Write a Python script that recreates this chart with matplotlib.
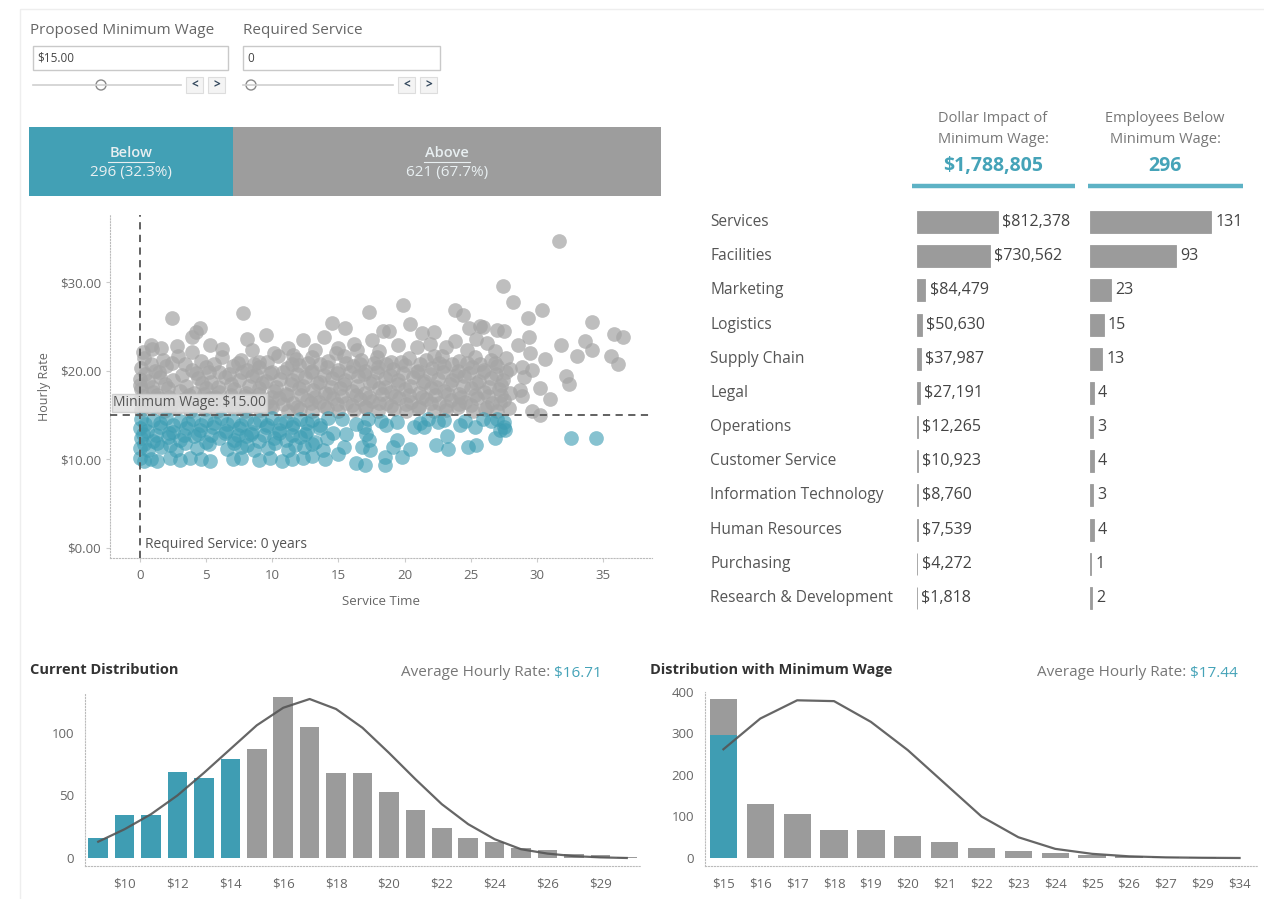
import matplotlib
matplotlib.use("Agg")
import matplotlib.pyplot as plt
from matplotlib.patches import Rectangle, Circle

plt.rcParams['font.family'] = ['Open Sans', 'DejaVu Sans']

W, H = 1264, 899
TEAL = '#3f9db3'
GRAY = '#9b9b9b'
TXT = '#666666'

# ---------------- data ----------------
min_wage = 15.00
required_service = 0
below_count = 296
above_count = 621
below_pct = 32.3
above_pct = 67.7

departments = ['Services', 'Facilities', 'Marketing', 'Logistics', 'Supply Chain', 'Legal',
               'Operations', 'Customer Service', 'Information Technology', 'Human Resources',
               'Purchasing', 'Research & Development']
dollar_impact = [812378, 730562, 84479, 50630, 37987, 27191, 12265, 10923, 8760, 7539, 4272, 1818]
employees_below = [131, 93, 23, 15, 13, 4, 3, 4, 3, 4, 1, 2]
total_impact = 1788805
total_below = 296

current_rates = ['$9', '$10', '$11', '$12', '$13', '$14', '$15', '$16', '$17', '$18', '$19', '$20',
                 '$21', '$22', '$23', '$24', '$25', '$26', '$27', '$29', '$34']
current_below = [16, 34, 34, 69, 64, 79, 0, 0, 0, 0, 0, 0, 0, 0, 0, 0, 0, 0, 0, 0, 0]
current_above = [0, 0, 0, 0, 0, 0, 87, 129, 105, 68, 68, 53, 38, 24, 16, 13, 8, 6, 3, 2, 1]
current_curve = [13, 23, 35, 50, 68, 87, 106, 120, 127, 119, 104, 84, 63, 43, 27, 15, 7, 3.5, 1.5, 0.5, 0]
current_avg = 16.71

new_rates = ['$15', '$16', '$17', '$18', '$19', '$20', '$21', '$22', '$23', '$24', '$25', '$26',
             '$27', '$29', '$34']
new_below = [296, 0, 0, 0, 0, 0, 0, 0, 0, 0, 0, 0, 0, 0, 0]
new_above = [87, 129, 105, 68, 68, 53, 38, 24, 16, 13, 8, 6, 3, 2, 1]
new_curve = [262, 336, 380, 378, 328, 260, 180, 100, 50, 22, 10, 4, 1.5, 0.5, 0]
new_avg = 17.44

# scatter: (service time, hourly rate)
above_points = [
    (0.1, 15.6), (0.9, 15.8), (1.8, 15.5), (2.9, 15.9), (3.8, 15.4), (4.9, 15.7), (5.8, 15.5), (7.0, 15.8),
    (7.9, 15.4), (9.1, 15.6), (10.0, 15.9), (11.2, 15.5), (12.1, 15.7), (13.0, 15.4), (14.1, 15.8), (15.0, 15.5),
    (16.2, 15.6), (17.1, 15.9), (18.0, 15.4), (19.2, 15.7), (20.1, 15.5), (21.0, 15.8), (22.2, 15.4), (23.1, 15.6),
    (24.0, 15.9), (25.2, 15.5), (26.1, 15.7), (27.0, 15.4), (27.9, 15.8),
    (0.3, 16.0), (1.2, 16.2), (2.3, 15.9), (3.4, 16.3), (4.6, 16.0), (5.5, 16.2), (6.7, 16.1), (7.7, 15.9),
    (8.8, 16.3), (9.8, 16.0), (10.8, 16.2), (11.9, 15.9), (12.9, 16.3), (13.9, 16.0), (14.9, 16.2), (16.0, 16.1),
    (17.0, 15.9), (18.1, 16.3), (19.0, 16.0), (20.1, 16.2), (21.1, 15.9), (22.0, 16.3), (23.1, 16.0), (24.1, 16.2),
    (25.0, 16.1), (26.2, 15.9), (27.2, 16.3),
    (0.0, 16.7), (0.5, 16.4), (1.4, 16.9), (2.4, 16.5), (3.3, 16.8), (4.4, 16.3), (5.3, 16.9), (6.5, 16.6),
    (7.4, 16.4), (8.5, 16.8), (9.6, 16.5), (10.5, 16.9), (11.6, 16.4), (12.6, 16.7), (13.5, 16.5), (14.6, 16.9),
    (15.6, 16.4), (16.6, 16.8), (17.5, 16.6), (18.6, 16.3), (19.6, 16.9), (20.5, 16.5), (21.6, 16.8), (22.6, 16.4),
    (23.5, 16.7), (24.6, 16.5), (25.5, 16.9), (26.6, 16.4), (27.5, 16.7),
    (0.2, 17.1), (1.3, 17.3), (2.2, 17.0), (3.7, 17.2), (4.8, 17.4), (5.7, 17.0), (6.9, 17.3), (7.9, 17.1),
    (9.0, 17.4), (10.0, 17.0), (11.1, 17.2), (12.2, 17.3), (13.2, 17.0), (14.3, 17.4), (15.3, 17.1), (16.3, 17.2),
    (17.3, 17.0), (18.3, 17.4), (19.3, 17.1), (20.3, 17.3), (21.3, 17.0), (22.3, 17.2), (23.3, 17.4), (24.3, 17.0),
    (25.3, 17.3), (26.3, 17.1), (27.3, 17.2),
    (0.1, 17.9), (1.0, 17.6), (2.1, 18.0), (3.0, 17.7), (4.1, 17.5), (5.0, 18.1), (6.0, 17.6), (7.1, 17.9),
    (8.0, 17.5), (9.0, 18.0), (10.1, 17.7), (11.0, 17.4), (12.0, 18.1), (13.1, 17.8), (14.0, 17.5), (15.1, 18.0),
    (16.0, 17.7), (17.0, 17.5), (18.1, 18.1), (19.0, 17.6), (20.0, 17.9), (21.1, 17.5), (22.0, 18.0), (23.0, 17.7),
    (24.1, 17.4), (25.0, 18.1), (26.0, 17.6), (27.1, 17.9), (28.0, 17.5),
    (0.0, 18.4), (0.9, 18.2), (1.9, 18.5), (3.5, 18.3), (4.7, 18.6), (5.9, 18.2), (6.9, 18.5), (8.2, 18.3),
    (9.2, 18.6), (10.3, 18.2), (11.4, 18.5), (12.3, 18.3), (13.4, 18.6), (14.4, 18.2), (15.4, 18.5), (16.4, 18.3),
    (17.4, 18.6), (18.5, 18.2), (19.5, 18.5), (20.4, 18.3), (21.4, 18.6), (22.4, 18.2), (23.4, 18.5), (24.4, 18.3),
    (25.4, 18.6), (26.4, 18.2), (27.3, 18.4),
    (0.0, 19.1), (0.6, 18.8), (1.5, 19.3), (2.5, 18.9), (4.4, 19.2), (5.4, 18.7), (6.4, 19.3), (7.5, 18.9),
    (8.5, 19.4), (9.5, 18.8), (10.6, 19.1), (11.5, 18.9), (12.5, 19.3), (13.6, 18.7), (14.5, 19.2), (15.5, 18.9),
    (16.5, 19.4), (17.6, 18.8), (18.5, 19.2), (19.5, 18.9), (20.6, 19.3), (21.5, 18.8), (22.5, 19.1), (23.6, 18.9),
    (24.5, 19.4), (25.6, 18.8), (26.5, 19.2), (27.4, 18.9),
    (0.4, 19.6), (1.4, 19.8), (3.2, 19.5), (4.2, 19.7), (5.2, 19.9), (6.7, 19.6), (7.7, 19.8), (8.8, 19.5),
    (9.8, 19.7), (10.8, 19.9), (11.9, 19.6), (12.9, 19.8), (13.9, 19.5), (14.9, 19.7), (15.9, 19.9), (16.9, 19.6),
    (17.9, 19.8), (18.9, 19.5), (19.9, 19.7), (20.9, 19.9), (21.9, 19.6), (22.9, 19.8), (23.9, 19.5), (24.9, 19.7),
    (25.9, 19.9), (26.9, 19.6), (27.7, 19.8),
    (0.1, 20.3), (1.1, 20.0), (2.0, 20.5), (3.9, 20.1), (5.0, 20.4), (6.0, 19.9), (7.0, 20.5), (8.1, 20.1),
    (9.0, 20.4), (10.0, 19.9), (11.1, 20.3), (12.0, 20.6), (13.0, 20.0), (14.1, 20.4), (15.0, 20.1), (16.1, 20.5),
    (17.0, 20.0), (18.0, 20.4), (19.1, 20.2), (20.0, 20.6), (21.0, 20.0), (22.1, 20.3), (23.0, 20.5), (24.0, 20.0),
    (25.1, 20.4), (26.0, 20.1), (27.0, 20.5), (28.0, 20.2),
    (0.8, 20.8), (2.4, 20.9), (3.4, 20.7), (5.6, 20.8), (7.4, 20.9), (8.6, 20.7), (9.6, 21.0), (11.5, 20.8),
    (12.7, 20.9), (13.6, 20.7), (15.6, 20.9), (16.6, 20.7), (17.7, 20.9), (18.6, 20.8), (19.7, 21.0), (21.2, 20.8),
    (22.6, 20.9), (23.6, 20.7), (24.7, 20.9), (25.7, 20.8), (26.8, 20.9),
    (0.3, 21.4), (1.7, 21.2), (2.9, 21.6), (4.6, 21.1), (6.2, 21.5), (7.6, 21.2), (9.0, 21.0), (10.4, 21.6),
    (11.8, 21.3), (13.0, 21.5), (14.2, 21.1), (15.4, 21.6), (16.7, 21.2), (17.9, 21.5), (19.0, 21.0), (20.3, 21.4),
    (21.6, 21.2), (22.8, 21.6), (24.1, 21.1), (25.3, 21.5), (26.5, 21.2), (27.7, 21.4),
    (0.9, 22.5), (2.4, 25.9), (4.5, 24.8), (4.2, 24.4), (3.9, 23.8), (3.9, 22.1), (0.8, 22.9), (1.6, 22.6),
    (7.8, 26.5), (8.1, 23.6), (9.5, 24.0), (10.1, 22.0), (12.3, 23.5), (13.9, 23.8), (14.5, 25.4), (15.5, 24.8),
    (8.5, 22.3), (11.6, 21.8), (6.2, 22.4), (11.2, 22.6), (13.2, 22.3), (15.0, 22.6), (16.2, 23.0),
    (17.3, 26.6), (19.9, 27.4), (20.4, 25.3), (21.3, 24.2), (22.2, 24.4), (18.4, 24.5), (18.8, 24.5),
    (17.5, 23.5), (16.4, 22.3), (19.5, 22.9), (20.9, 22.7), (22.2, 21.7), (23.1, 22.7), (23.8, 23.3),
    (23.8, 26.8), (24.4, 26.3), (24.9, 24.8), (25.7, 25.0), (25.9, 24.9), (27.0, 24.6), (27.5, 24.5),
    (26.2, 23.1), (28.6, 22.9), (29.4, 23.8), (28.2, 27.8), (27.4, 29.6), (31.7, 34.6), (30.4, 26.8),
    (29.3, 25.9), (29.5, 22.0), (28.9, 20.4), (29.6, 20.1), (30.6, 21.3), (30.2, 18.0), (31.0, 16.8),
    (32.2, 19.4), (32.4, 18.5), (31.8, 22.9), (33.0, 21.6), (33.6, 23.4), (34.2, 25.5), (34.2, 22.3),
    (35.8, 24.1), (36.5, 23.8), (35.6, 21.7), (36.1, 20.8), (29.0, 19.3), (28.7, 17.8), (28.9, 17.1),
    (29.6, 15.4), (30.2, 15.0), (21.9, 23.0), (24.7, 22.3), (25.4, 23.6), (26.8, 22.2), (18.1, 22.2),
    (14.8, 22.0), (5.3, 22.9), (2.8, 22.8), (0.2, 22.1),
]
below_points = [
    (0.1, 14.6), (1.0, 14.4), (2.0, 14.7), (3.0, 14.3), (4.0, 14.6), (5.0, 14.4), (6.1, 14.7), (7.0, 14.3),
    (8.0, 14.6), (9.1, 14.4), (10.0, 14.7), (11.0, 14.3), (12.1, 14.6), (13.0, 14.4), (14.2, 14.7), (15.3, 14.5),
    (17.2, 14.6), (18.2, 14.3), (21.8, 14.6), (23.0, 14.4), (25.9, 14.6), (26.5, 14.3),
    (0.4, 14.0), (1.5, 14.1), (2.5, 13.9), (3.6, 14.1), (4.6, 13.9), (5.6, 14.1), (6.6, 14.0), (7.6, 13.9),
    (8.6, 14.1), (9.6, 13.9), (10.6, 14.1), (11.6, 14.0), (12.6, 14.1), (13.6, 13.9), (16.3, 14.0), (18.6, 13.9),
    (22.5, 14.2), (24.6, 14.3), (27.0, 14.5),
    (0.0, 13.5), (0.5, 13.2), (1.5, 13.6), (2.5, 13.1), (3.5, 13.5), (4.5, 13.3), (5.5, 13.7), (6.5, 13.2),
    (7.5, 13.5), (8.5, 13.1), (9.5, 13.6), (10.5, 13.3), (11.5, 13.6), (12.6, 13.2), (13.6, 13.5), (14.6, 13.0),
    (0.2, 12.9), (1.2, 12.8), (2.2, 13.0), (3.3, 12.7), (4.4, 12.9), (5.4, 12.8), (6.4, 13.0), (7.4, 12.7),
    (8.4, 12.9), (9.4, 12.8), (10.5, 13.0), (11.5, 12.7), (12.5, 12.9),
    (0.1, 12.4), (1.0, 12.1), (2.1, 12.5), (3.0, 12.2), (4.1, 12.6), (5.0, 12.0), (6.0, 12.4), (7.1, 12.2),
    (8.0, 12.6), (9.0, 12.1), (10.1, 12.4), (11.0, 12.2), (12.1, 12.5), (13.2, 12.0), (14.1, 12.4),
    (0.3, 11.7), (1.3, 11.8), (2.3, 11.6), (3.4, 11.8), (5.2, 11.7), (7.1, 11.8), (8.1, 11.6), (10.2, 11.8),
    (11.7, 11.6), (13.0, 11.7),
    (0.0, 11.3), (0.6, 11.0), (1.6, 11.4), (2.7, 11.1), (4.3, 11.3), (6.6, 11.2), (7.6, 11.4), (8.6, 11.0),
    (9.7, 11.3), (11.2, 11.1), (12.4, 11.4), (13.8, 11.0),
    (0.0, 10.1), (0.3, 9.8), (0.8, 10.0), (1.3, 9.8), (2.3, 10.1), (3.0, 9.9), (3.8, 10.2), (4.6, 10.0),
    (5.3, 9.8), (7.0, 10.0), (7.6, 10.1), (9.0, 9.9), (9.8, 10.2), (10.7, 9.8), (11.5, 10.0), (12.3, 10.1),
    (13.0, 10.4), (14.0, 10.0), (15.0, 10.6),
    (15.6, 12.9), (15.4, 11.4), (16.9, 13.7), (17.1, 12.9), (17.3, 12.2), (16.8, 11.4), (17.4, 11.1),
    (16.3, 9.6), (17.0, 9.4), (18.5, 10.3), (18.5, 9.4), (19.4, 14.2), (19.4, 12.2), (19.1, 11.4),
    (19.8, 10.3), (20.4, 11.2), (20.7, 13.7), (21.2, 14.1), (21.5, 13.7), (22.4, 11.6), (23.2, 12.6),
    (23.3, 11.2), (24.2, 13.9), (24.8, 11.4), (25.3, 13.7), (25.4, 11.6), (26.8, 12.4), (27.2, 13.3),
    (27.5, 14.2), (27.6, 13.3), (27.5, 13.7), (32.6, 12.4), (34.5, 12.4),
]

# ---------------- figure ----------------
fig = plt.figure(figsize=(W / 100, H / 100), dpi=100)
fig.patch.set_facecolor('white')


def px_axes(l, t, r, b):
    return fig.add_axes([l / W, 1 - b / H, (r - l) / W, (b - t) / H])


def clean(ax):
    for s in ax.spines.values():
        s.set_visible(False)
    ax.set_facecolor('none')


ov = fig.add_axes([0, 0, 1, 1])
ov.set_xlim(0, W)
ov.set_ylim(H, 0)
ov.axis('off')
ov.set_zorder(10)
ov.patch.set_visible(False)

ov.add_patch(Rectangle((20, 9), W, H, fill=False, edgecolor='#eeeeee', lw=1))

# parameter controls
for lx, label, val, box_r, knob in [(30, 'Proposed Minimum Wage', '$%.2f' % min_wage, 228, 101),
                                    (243, 'Required Service', str(required_service), 440, 251)]:
    ov.text(lx, 31, label, fontsize=11, color=TXT, va='center', ha='left')
    bx = lx + 3 if lx == 30 else lx
    ov.add_patch(Rectangle((bx, 46), box_r - bx, 24, fill=True, facecolor='white', edgecolor='#c9c9c9', lw=1))
    ov.text(bx + 4, 58, val, fontsize=8.5, color='#444444', va='center', ha='left')
    ov.plot([bx, box_r - 47], [85, 85], color='#cfcfcf', lw=1.2)
    ov.add_patch(Circle((knob, 85), 5, facecolor='white', edgecolor='#8a8a8a', lw=1))
    for i, ch in enumerate(['<', '>']):
        x0 = box_r - 42 + i * 22
        ov.add_patch(Rectangle((x0, 77), 17, 16, facecolor='#f4f4f4', edgecolor='#dddddd', lw=0.8))
        ov.text(x0 + 8.5, 85, ch, fontsize=8.5, color='#34495e', ha='center', va='center', fontweight='bold')

# ---------------- Below / Above bar ----------------
axb = px_axes(29, 127, 661, 196)
clean(axb)
axb.barh([0], [below_count], height=1.0, color='#42a0b5')
axb.barh([0], [above_count], left=below_count, height=1.0, color='#9d9d9d')
axb.set_xlim(0, below_count + above_count)
axb.set_ylim(-0.5, 0.5)
axb.set_xticks([])
axb.set_yticks([])
for cx, name, cnt, pct in [(below_count / 2, 'Below', below_count, below_pct),
                           (below_count + above_count / 2, 'Above', above_count, above_pct)]:
    axb.text(cx, 0.13, name, ha='center', va='center', fontsize=10.5, color='#e8eff1', fontweight='semibold')
    axb.text(cx, -0.16, '%d (%.1f%%)' % (cnt, pct), ha='center', va='center', fontsize=11, color='#e8eff1')
    axb.plot([cx - 33, cx + 33], [-0.01, -0.01], color='#e8eff1', lw=0.8)

# ---------------- scatter ----------------
axs = px_axes(110, 215, 652, 558)
axs.set_facecolor('none')
for s in ['top', 'right']:
    axs.spines[s].set_visible(False)
for s in ['left', 'bottom']:
    axs.spines[s].set_linestyle(':')
    axs.spines[s].set_color('#bbbbbb')
axs.set_xlim(-2.27, 38.7)
axs.set_ylim(-1.13, 37.56)
ax_x = [p[0] for p in above_points]
ax_y = [p[1] for p in above_points]
bl_x = [p[0] for p in below_points]
bl_y = [p[1] for p in below_points]
axs.scatter(ax_x, ax_y, s=112, color='#a6a6a6', alpha=0.72, linewidths=0, zorder=2)
axs.scatter(bl_x, bl_y, s=112, color='#3d9db3', alpha=0.62, linewidths=0, zorder=2)
axs.axhline(min_wage, color='#555555', ls=(0, (4, 3)), lw=1.3, zorder=3)
axs.axvline(required_service, color='#555555', ls=(0, (4, 3)), lw=1.3, zorder=3)
axs.text(-2.05, min_wage + 0.55, 'Minimum Wage: $%.2f' % min_wage, fontsize=10, color='#555555',
         ha='left', va='bottom', zorder=4,
         bbox=dict(facecolor='#e2e2e2', edgecolor='#cccccc', alpha=0.85, pad=1.0))
axs.text(required_service + 0.35, 0.35, 'Required Service: %d years' % required_service, fontsize=10,
         color='#555555', ha='left', va='center', zorder=4)
axs.set_yticks([0, 10, 20, 30])
axs.set_yticklabels(['$%.2f' % v for v in [0, 10, 20, 30]])
axs.set_xticks([0, 5, 10, 15, 20, 25, 30, 35])
axs.tick_params(colors='#cccccc', labelcolor=TXT, labelsize=9.5, length=3)
axs.tick_params(axis='x', pad=5)
axs.set_xlabel('Service Time', fontsize=9.5, color=TXT, labelpad=9)
axs.set_ylabel('Hourly Rate', fontsize=9, color=TXT, labelpad=6)

# ---------------- department bars ----------------
ov.text(993, 129, 'Dollar Impact of\nMinimum Wage:', ha='center', va='center', fontsize=10.5,
        color='#777777', linespacing=1.6)
ov.text(993, 166, '${:,}'.format(total_impact), ha='center', va='center', fontsize=14,
        color='#45a3b8', fontweight='bold')
ov.plot([912, 1075], [186, 186], color='#5db2c5', lw=3.2, solid_capstyle='butt')
ov.text(1165, 129, 'Employees Below\nMinimum Wage:', ha='center', va='center', fontsize=10.5,
        color='#777777', linespacing=1.6)
ov.text(1165, 166, '{:,}'.format(total_below), ha='center', va='center', fontsize=14,
        color='#45a3b8', fontweight='bold')
ov.plot([1088, 1243], [186, 186], color='#5db2c5', lw=3.2, solid_capstyle='butt')

axd = px_axes(917, 205, 1085, 615)
clean(axd)
ypos = list(range(len(departments)))
axd.barh(ypos, dollar_impact, height=0.64, color=GRAY, edgecolor=GRAY, linewidth=0.6)
axd.set_xlim(0, 1684000)
axd.set_ylim(len(departments) - 0.5, -0.5)
axd.set_xticks([])
axd.set_yticks([])
for y, v in zip(ypos, dollar_impact):
    axd.annotate('${:,}'.format(v), (v, y), xytext=(3, 0), textcoords='offset points',
                 va='center', ha='left', fontsize=11.5, color='#444444')
for y, name in zip(ypos, departments):
    axd.annotate(name, (0, y), xytext=(-207, 0), textcoords='offset pixels',
                 va='center', ha='left', fontsize=11.2, color='#555555')

axe = px_axes(1090, 205, 1250, 615)
clean(axe)
axe.barh(ypos, employees_below, height=0.64, color=GRAY, edgecolor=GRAY, linewidth=0.6)
axe.set_xlim(0, 173)
axe.set_ylim(len(departments) - 0.5, -0.5)
axe.set_xticks([])
axe.set_yticks([])
for y, v in zip(ypos, employees_below):
    axe.annotate(str(v), (v, y), xytext=(3, 0), textcoords='offset points',
                 va='center', ha='left', fontsize=11.5, color='#444444')


# ---------------- histograms ----------------
def hist(ax, labels, below, above, curve, ymax, ybot, yticks, label_every_other):
    ax.set_facecolor('none')
    for s in ['top', 'right']:
        ax.spines[s].set_visible(False)
    for s in ['left', 'bottom']:
        ax.spines[s].set_linestyle(':')
        ax.spines[s].set_color('#bbbbbb')
    xs = list(range(len(labels)))
    ax.bar(xs, below, width=0.74, color='#3f9db3', zorder=2)
    ax.bar(xs, above, bottom=below, width=0.74, color=GRAY, zorder=2)
    ax.plot(xs, curve, color='#555555', lw=1.6, alpha=0.9, zorder=3)
    ax.set_xlim(-0.5, len(labels) - 0.5)
    ax.set_ylim(ybot, ymax)
    ax.set_yticks(yticks)
    if label_every_other:
        ax.set_xticks(xs[1::2])
        ax.set_xticklabels(labels[1::2])
    else:
        ax.set_xticks(xs)
        ax.set_xticklabels(labels)
    ax.tick_params(axis='y', length=0, labelcolor=TXT, labelsize=9.5, pad=8)
    ax.tick_params(axis='x', length=0, labelcolor=TXT, labelsize=9.5, pad=8)


axh1 = px_axes(85, 694, 640, 866)
hist(axh1, current_rates, current_below, current_above, current_curve, 131, -6.4, [0, 50, 100], True)
axh2 = px_axes(705, 692, 1258, 866)
hist(axh2, new_rates, new_below, new_above, new_curve, 400, -19.3, [0, 100, 200, 300, 400], False)

ov.text(30, 670, 'Current Distribution', fontsize=10.5, color='#333333', fontweight='bold', va='center')
ov.text(650, 670, 'Distribution with Minimum Wage', fontsize=10.5, color='#333333', fontweight='bold',
        va='center')

fig.canvas.draw()
for right_x, val in [(602, current_avg), (1238, new_avg)]:
    t = ov.text(right_x, 673, '$%.2f' % val, fontsize=11, color='#45a3b8', va='center', ha='right')
    bb = t.get_window_extent(renderer=fig.canvas.get_renderer())
    ov.text(right_x - bb.width - 4, 673, 'Average Hourly Rate:', fontsize=11, color='#777777',
            va='center', ha='right')

fig.savefig('out.png', dpi=100, facecolor='white')
